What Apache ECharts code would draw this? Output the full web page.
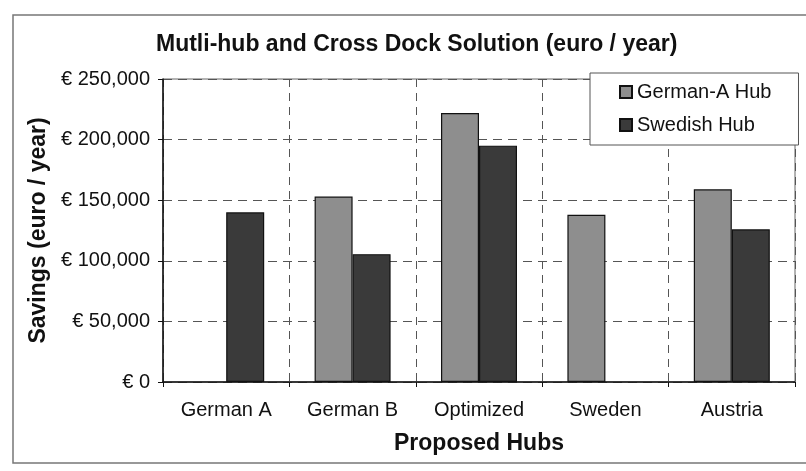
<!DOCTYPE html>
<html>
<head>
<meta charset="utf-8">
<script src="https://cdn.jsdelivr.net/npm/echarts@6/dist/echarts.min.js"></script>
<style>
    html, body { margin: 0; padding: 0; background: #fff; }
    #chart { width: 806px; height: 471px; }
</style>
</head>
<body>
<div id="chart"></div>
<script>
// hubs on the x axis
const categories = ['German A', 'German B', 'Optimized', 'Sweden', 'Austria'];
// savings per year, euro (null = no bar)
const germanAHub = [null, 153000, 222000, 138000, 159000];
const swedishHub = [140000, 105500, 195000, null, 126000];
const yTicks = [0, 50000, 100000, 150000, 200000, 250000];

const font = 'Liberation Sans, Arial, sans-serif';

function euro(v) {
    return '€ ' + String(v).replace(/\B(?=(\d{3})+(?!\d))/g, ',');
}

let chart = echarts.init(document.getElementById('chart'));
let option = {
    backgroundColor: '#fff',
    animation: false,
    textStyle: { fontFamily: font, color: '#111' },
    title: {
        text: 'Mutli-hub and Cross Dock Solution (euro / year)',
        left: 151,
        top: 28,
        textStyle: { fontFamily: font, fontSize: 23, fontWeight: 'bold', color: '#111' }
    },
    graphic: [
        {
            // outer chart frame
            type: 'rect',
            silent: true,
            shape: { x: 13, y: 15, width: 820, height: 448 },
            style: { fill: 'none', stroke: '#777', lineWidth: 1.5 },
            z: -1
        }
    ],
    legend: {
        orient: 'vertical',
        left: 590,
        top: 73,
        padding: [9, 27, 10, 29],
        itemGap: 13,
        itemWidth: 12,
        itemHeight: 12,
        icon: 'rect',
        backgroundColor: '#fff',
        borderColor: '#555',
        borderWidth: 1,
        textStyle: { fontFamily: font, fontSize: 20, color: '#111' },
        data: ['German-A Hub', 'Swedish Hub'],
        z: 10
    },
    grid: {
        left: 163,
        right: 11,
        top: 79,
        bottom: 89,
        show: true,
        borderColor: '#666',
        borderWidth: 1
    },
    xAxis: {
        type: 'category',
        data: categories,
        name: 'Proposed Hubs',
        nameLocation: 'middle',
        nameGap: 50,
        nameTextStyle: { fontFamily: font, fontSize: 23, fontWeight: 'bold', color: '#111' },
        axisLine: { lineStyle: { color: '#111', width: 1.5 } },
        axisTick: { show: true, length: 5, lineStyle: { color: '#111' } },
        axisLabel: { fontFamily: font, fontSize: 20, color: '#111', margin: 18 },
        splitLine: { show: true, lineStyle: { color: '#555', type: [8, 6], width: 1 } }
    },
    yAxis: {
        type: 'value',
        min: yTicks[0],
        max: yTicks[yTicks.length - 1],
        interval: yTicks[1] - yTicks[0],
        name: 'Savings (euro / year)',
        nameLocation: 'middle',
        nameGap: 113,
        nameTextStyle: { fontFamily: font, fontSize: 23, fontWeight: 'bold', color: '#111' },
        axisLine: { show: true, lineStyle: { color: '#111', width: 1.5 } },
        axisTick: { show: true, length: 5, lineStyle: { color: '#111' } },
        axisLabel: { fontFamily: font, fontSize: 20, color: '#111', margin: 13, formatter: euro },
        splitLine: { show: true, lineStyle: { color: '#555', type: [9, 6], width: 1 } }
    },
    series: [
        {
            name: 'German-A Hub',
            type: 'bar',
            data: germanAHub,
            barWidth: 38,
            barGap: '0%',
            itemStyle: { color: '#8e8e8e', borderColor: '#111', borderWidth: 1.2 }
        },
        {
            name: 'Swedish Hub',
            type: 'bar',
            data: swedishHub,
            barWidth: 38,
            barGap: '0%',
            itemStyle: { color: '#3a3a3a', borderColor: '#111', borderWidth: 1.2 }
        }
    ]
};
chart.setOption(option);
window.addEventListener('resize', function() {
    chart.resize();
});
</script>
</body>
</html>
